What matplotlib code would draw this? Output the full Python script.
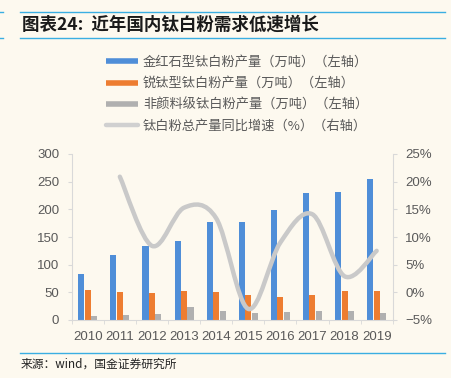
import matplotlib
matplotlib.use("Agg")
import matplotlib.pyplot as plt
import numpy as np
from matplotlib.path import Path
from matplotlib.patches import PathPatch
from matplotlib.lines import Line2D
from matplotlib.ticker import FixedLocator, FuncFormatter

# data
years = ["2010", "2011", "2012", "2013", "2014", "2015", "2016", "2017", "2018", "2019"]
rutile = [84, 117, 134, 143, 177, 178, 198, 229, 231, 255]
anatase = [55, 51, 48, 52, 50, 45, 42, 46, 52, 52]
non_pigment = [7, 9, 10, 23, 17, 13, 15, 16, 16, 13]
growth = [None, 20.9, 8.4, 15.3, 13.4, -3.0, 9.0, 14.1, 2.9, 7.5]

labels = ["金红石型钛白粉产量（万吨）（左轴）",
          "锐钛型钛白粉产量（万吨）（左轴）",
          "非颜料级钛白粉产量（万吨）（左轴）",
          "钛白粉总产量同比增速（%）（右轴）"]
title = "图表24:  近年国内钛白粉需求低速增长"
source = "来源：wind，国金证券研究所"

BG = "#FDF9EF"
BLUE = "#4F8ED8"
ORANGE = "#ED7D31"
GRAY = "#B0B0B0"
LINE = "#C9C9C9"
TXT = "#595959"
RULE = "#3AAEE2"
CJK = ["Noto Sans CJK SC", "DejaVu Sans"]

fig = plt.figure(figsize=(4.51, 3.78), dpi=100, facecolor=BG)
ax = fig.add_axes([71.7 / 451, 1 - 320 / 378, (392.7 - 71.7) / 451, (320 - 154) / 378])
ax.set_facecolor(BG)

x = np.arange(len(years))
w = 0.19
ax.bar(x - 0.2, rutile, w, color=BLUE, zorder=2)
ax.bar(x, anatase, w, color=ORANGE, zorder=2)
ax.bar(x + 0.2, non_pigment, w, color=GRAY, zorder=2)

ax.set_xlim(-0.5, len(years) - 0.5)
ax.set_ylim(0, 300)
ax.set_yticks(range(0, 301, 50))
ax.set_xticks(x)
ax.set_xticklabels(years)
ax.xaxis.set_minor_locator(FixedLocator(np.arange(-0.5, len(years), 1.0)))
ax.tick_params(axis="x", which="major", length=0, pad=8, labelsize=9.5, labelcolor=TXT)
ax.tick_params(axis="x", which="minor", length=3, color="#D9D9D9")
ax.tick_params(axis="y", length=3, color="#D9D9D9", pad=6, labelsize=9.5, labelcolor=TXT)
for lab in ax.get_xticklabels() + ax.get_yticklabels():
    lab.set_family("Liberation Sans")
for s in ["top", "right"]:
    ax.spines[s].set_visible(False)
for s in ["left", "bottom"]:
    ax.spines[s].set_color("#D9D9D9")

ax2 = ax.twinx()
ax2.set_ylim(-5, 25)
ax2.set_yticks(range(-5, 26, 5))
ax2.yaxis.set_major_formatter(FuncFormatter(lambda v, p: f"{int(v)}%".replace("-", "\u2212")))
ax2.tick_params(axis="y", length=3, color="#D9D9D9", pad=6, labelsize=9.5, labelcolor=TXT)
for lab in ax2.get_yticklabels():
    lab.set_family("Liberation Sans")
for s in ["top", "left", "bottom"]:
    ax2.spines[s].set_visible(False)
ax2.spines["right"].set_color("#D9D9D9")

# smoothed growth line (bezier through the points, like office charts)
pts = [(i, g) for i, g in enumerate(growth) if g is not None]
pts = np.array(pts, dtype=float)
verts = [tuple(pts[0])]
codes = [Path.MOVETO]
n = len(pts)
for i in range(n - 1):
    p_prev = pts[max(i - 1, 0)]
    p0 = pts[i]
    p1 = pts[i + 1]
    p_next = pts[min(i + 2, n - 1)]
    c1 = p0 + (p1 - p_prev) / 6
    c2 = p1 - (p_next - p0) / 6
    verts += [tuple(c1), tuple(c2), tuple(p1)]
    codes += [Path.CURVE4] * 3
ax2.add_patch(PathPatch(Path(verts, codes), fill=False, edgecolor=LINE, lw=3.2,
                        capstyle="round", joinstyle="round", zorder=3))

# legend
handles = [Line2D([], [], color=BLUE, lw=4, solid_capstyle="butt"),
           Line2D([], [], color=ORANGE, lw=4, solid_capstyle="butt"),
           Line2D([], [], color=GRAY, lw=4, solid_capstyle="butt"),
           Line2D([], [], color="#D0D0D0", lw=3.2, solid_capstyle="round")]
leg = fig.legend(handles, labels, loc="upper left", bbox_to_anchor=(106 / 451, 1 - 56 / 378),
                 frameon=False, borderpad=0, borderaxespad=0, handlelength=2.4,
                 handletextpad=0.4, labelspacing=0.62, prop={"family": CJK, "size": 9.5})
for t in leg.get_texts():
    t.set_color(TXT)

# page furniture
for yy in [12.3, 38]:
    fig.add_artist(Line2D([20 / 451, 445 / 451], [1 - yy / 378] * 2, color=RULE, lw=1))
    fig.add_artist(Line2D([0, 3 / 451], [1 - yy / 378] * 2, color=RULE, lw=1))
fig.add_artist(Line2D([20 / 451, 445 / 451], [1 - 353 / 378] * 2, color=RULE, lw=1))
fig.text(22 / 451, 1 - 24.5 / 378, title, family=CJK, fontsize=12.6, fontweight="bold",
         color="#1A1A1A", va="center", ha="left")
fig.text(21 / 451, 1 - 364.5 / 378, source, family=CJK, fontsize=8.5, color="#222222",
         va="center", ha="left")

fig.savefig("out.png", dpi=100, facecolor=BG)
